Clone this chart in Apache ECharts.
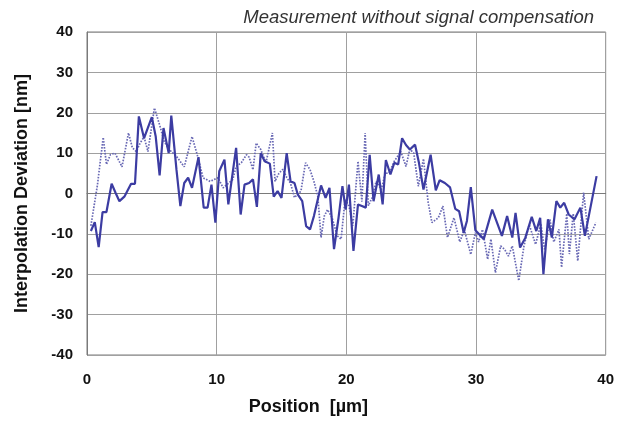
<!DOCTYPE html>
<html>
<head>
<meta charset="utf-8">
<script src="https://cdn.jsdelivr.net/npm/echarts@6/dist/echarts.min.js"></script>
<style>html,body{margin:0;padding:0;background:#fff}#c{width:617px;height:421px}</style>
</head>
<body>
<div id="c"></div>
<script>
var titleText = 'Measurement without signal compensation';
var xName = 'Position  [µm]';
var yName = 'Interpolation Deviation [nm]';
var xTicks = [0, 10, 20, 30, 40];
var yTicks = [-40, -30, -20, -10, 0, 10, 20, 30, 40];

var solidPos = [0.3,0.6,0.9,1.2,1.5,1.9,2.2,2.5,2.9,3.4,3.7,4.0,4.4,5.0,5.3,5.6,5.9,6.3,6.5,6.9,7.2,7.5,7.8,8.1,8.6,9.0,9.3,9.6,9.9,10.2,10.6,10.9,11.2,11.5,11.85,12.15,12.5,12.8,13.1,13.4,13.7,14.1,14.4,14.7,15.0,15.4,15.7,16.0,16.25,16.6,16.9,17.2,17.5,18.05,18.4,18.7,19.05,19.4,19.7,19.95,20.2,20.55,20.9,21.2,21.5,21.8,22.1,22.5,22.8,23.05,23.4,23.7,24.0,24.3,24.6,24.9,25.3,25.6,25.95,26.5,26.9,27.2,27.6,28.0,28.4,28.7,29.05,29.3,29.6,29.95,30.6,31.25,32.0,32.4,32.8,33.05,33.4,33.8,34.3,34.65,34.95,35.2,35.55,35.85,36.2,36.5,36.8,37.15,37.6,38.05,38.4,39.3];
var solidVal = [-9.3,-7.1,-13.3,-4.6,-4.6,2.4,0.2,-1.9,-0.7,2.4,2.4,19.1,13.7,18.9,14.1,4.5,16.2,10,19.3,5.9,-3.1,2.6,3.9,1.4,9.0,-3.5,-3.5,2.2,-7.2,5.5,8.4,-2.7,4.3,11.3,-5.2,2.2,2.6,3.5,-3.3,10,8.0,7.4,-0.8,0.6,-1.1,10,3.0,2.6,-0.2,-1.9,-8.1,-8.9,-5.6,2.0,-1.1,1.4,-13.8,-6,1.8,-4.0,2.2,-14.2,-2.7,-3.1,-3.5,9.6,-1.9,4.7,-2.7,8.3,4.7,7.6,7.2,13.7,12.0,10.9,12.1,7.6,1.0,9.6,0.8,3.3,2.6,1.5,-3.8,-4.4,-9.7,-6.8,1.6,-9.1,-11.3,-4.0,-10.5,-5.6,-10.9,-4.8,-13.4,-11.0,-5.8,-9.3,-6.0,-20,-6.4,-10.9,-1.9,-3.5,-2.3,-5.2,-6.4,-3.5,-10.5,4.3];

var dotPos = [0.3,0.8,1.25,1.5,1.8,2.15,2.4,2.7,3.2,3.5,3.8,4.1,4.4,4.7,5.2,5.6,5.95,6.3,6.9,7.5,8.1,8.5,8.95,9.5,10.1,10.5,10.9,11.25,11.5,11.9,12.3,12.5,12.8,13.05,13.4,13.8,14.3,14.5,14.8,15.1,15.4,15.7,16.0,16.5,16.85,17.2,17.5,17.8,18.05,18.3,18.55,18.9,19.3,19.6,19.9,20.2,20.5,20.9,21.2,21.45,21.7,22.0,22.3,22.7,23.0,23.3,23.7,24.2,24.6,24.9,25.2,25.55,25.95,26.3,26.6,27.1,27.45,27.8,28.3,28.75,29.1,29.6,29.95,30.2,30.5,30.9,31.15,31.5,31.9,32.2,32.5,32.8,33.3,33.7,34.1,34.6,35.0,35.3,35.7,36.0,36.4,36.6,37.0,37.2,37.5,37.85,38.3,38.7,39.25];
var dotVal = [-8,2,13.9,7.2,9.6,10,8.5,6.6,15,11.3,10.4,12.5,14,10.4,21.2,17,12.9,11,9.2,6.6,14.1,9.6,3.9,3.0,3.9,1.4,2.5,3.5,6.7,7.6,9.6,9,5.9,12.5,10.9,7.6,15,3,5,6,4,2.5,-1.0,0.6,7.6,5.9,3.0,-0.7,-10.9,-5.6,-4.0,-6,-10.5,-11.3,-1.5,-3,-8,8.0,-2,15.0,-3,-1,3,1,5,5.1,8,10.4,6.7,11,10,1.8,8.6,-2,-7.2,-6,-3.1,-10.9,-6,-12,-9,-15.1,-9.7,-12,-8.9,-16.3,-11.3,-19.6,-13,-13.8,-15.5,-13,-21.6,-13,-7.7,-12.6,-7.5,-14,-6.4,-12,-8.9,-18.3,-5,-15,-5,-16.7,0.2,-11.3,-7.2];

function pairs(xs, ys) { return xs.map(function (x, i) { return [x, ys[i]]; }); }

var chart = echarts.init(document.getElementById('c'), null, {renderer: 'canvas'});
var font = '"Liberation Sans", Arial, sans-serif';
chart.setOption({
  animation: false,
  backgroundColor: '#fff',
  title: {
    text: titleText,
    right: 18, top: 3,
    textStyle: {fontFamily: font, fontStyle: 'italic', fontWeight: 'normal', fontSize: 18.5, color: '#333'}
  },
  grid: {left: 87, right: 11, top: 32, bottom: 64, show: true, borderColor: '#7a7a7a', borderWidth: 1, containLabel: false},
  xAxis: {
    type: 'value', min: xTicks[0], max: xTicks[xTicks.length - 1], interval: 10,
    name: xName, nameLocation: 'middle', nameGap: 43,
    nameTextStyle: {fontFamily: font, fontWeight: 'bold', fontSize: 18, color: '#111', padding: [0, 76, 0, 0]},
    axisLine: {show: true, lineStyle: {color: '#7a7a7a', width: 1}},
    axisTick: {show: false},
    axisLabel: {margin: 17, fontFamily: font, fontWeight: 'bold', fontSize: 15, color: '#111'},
    splitLine: {show: true, lineStyle: {color: '#a0a0a0', width: 1}}
  },
  yAxis: {
    type: 'value', min: yTicks[0], max: yTicks[yTicks.length - 1], interval: 10,
    name: yName, nameLocation: 'middle', nameGap: 56,
    nameTextStyle: {fontFamily: font, fontWeight: 'bold', fontSize: 18, color: '#111'},
    axisLine: {show: true, lineStyle: {color: '#7a7a7a', width: 1}},
    axisTick: {show: false},
    axisLabel: {margin: 14, fontFamily: font, fontWeight: 'bold', fontSize: 15, color: '#111'},
    splitLine: {show: true, lineStyle: {color: '#a0a0a0', width: 1}}
  },
  series: [
    {
      type: 'line', data: pairs(dotPos, dotVal), showSymbol: false, symbol: 'none',
      lineStyle: {color: '#6868b4', width: 1.7, type: [1.6, 1.4]}, z: 2
    },
    {
      type: 'line', data: pairs(solidPos, solidVal), showSymbol: false, symbol: 'none',
      lineStyle: {color: '#3c3ca2', width: 2.2}, z: 3
    }
  ]
});
</script>
</body>
</html>
